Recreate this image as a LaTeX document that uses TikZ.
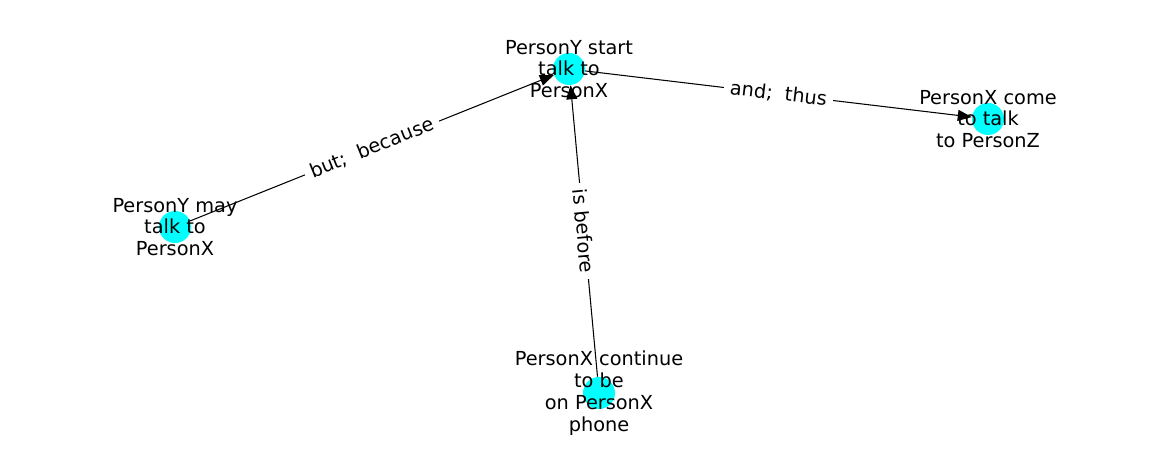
\documentclass[tikz,border=0pt]{standalone}
\usepackage{fontspec}
\setmainfont{DejaVu Sans}
\usetikzlibrary{arrows.meta}
\definecolor{dotcyan}{HTML}{00FFFF}
\tikzset{
  eventdot/.style={
    circle,
    fill=dotcyan,
    minimum size=0.64cm,
    inner sep=0pt
  },
  eventtext/.style={
    align=center,
    inner sep=0pt,
    font=\fontsize{11}{12.4}\selectfont
  },
  relarrow/.style={-{Triangle[length=0.28cm,width=0.22cm]},line width=0.6pt,draw=black},
  rellabel/.style={
    midway,
    sloped,
    fill=white,
    inner sep=3.5pt,
    font=\fontsize{11}{12.4}\selectfont
  }
}

\begin{document}
\begin{tikzpicture}[x=0.02cm,y=-0.02cm]
\useasboundingbox (0,0) rectangle (1162,462);
% event nodes
\node[eventdot] (start) at (569,69) {};
\node[eventdot] (may) at (175,227) {};
\node[eventdot] (come) at (988,119) {};
\node[eventdot] (cont) at (599,393) {};
% relations
\draw[relarrow] (may) -- (start) node[rellabel] {but;\ \ because};
\draw[relarrow] (cont) -- (start) node[rellabel] {is before};
\draw[relarrow] (start) -- (come) node[rellabel] {and;\ \ thus};
% event texts
\node[eventtext] at (start) {PersonY start\\talk to\\PersonX};
\node[eventtext] at (may) {PersonY may\\talk to\\PersonX};
\node[eventtext] at (come) {PersonX come\\to talk\\to PersonZ};
\node[eventtext] at (cont) {PersonX continue\\to be\\on PersonX\\phone};
\end{tikzpicture}
\end{document}
